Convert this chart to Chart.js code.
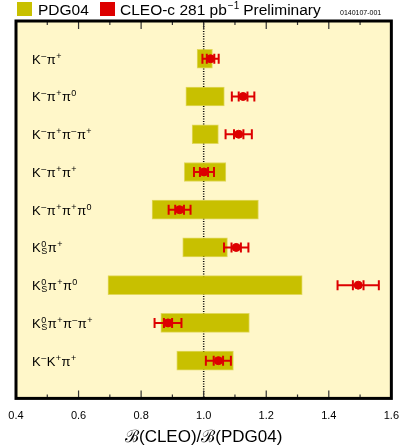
<!DOCTYPE html>
<html>
<head>
<meta charset="utf-8">
<script src="https://cdn.jsdelivr.net/npm/chart.js@4"></script>
<style>
  html, body { margin: 0; padding: 0; background: #ffffff; }
  #wrap { width: 402px; height: 448px; position: relative; }
</style>
</head>
<body>
<div id="wrap"><canvas id="chart" width="402" height="448"></canvas></div>
<script>
// decay modes, top to bottom (^ = superscript, _ = subscript)
var modes = ['K^-π^+', 'K^-π^+π^0', 'K^-π^+π^-π^+', 'K^-π^+π^+', 'K^-π^+π^+π^0',
             'K^0_Sπ^+', 'K^0_Sπ^+π^0', 'K^0_Sπ^+π^-π^+', 'K^-K^+π^+'];

// PDG04 band (low / high) relative to PDG04
var pdgLow  = [0.979, 0.943, 0.963, 0.938, 0.835, 0.933, 0.694, 0.863, 0.914];
var pdgHigh = [1.028, 1.066, 1.047, 1.071, 1.175, 1.076, 1.315, 1.146, 1.095];

// CLEO-c ratio with total and statistical errors
var cleoVal  = [1.022, 1.126, 1.112, 1.001, 0.923, 1.104, 1.494, 0.886, 1.047];
var cleoTot  = [0.026, 0.036, 0.042, 0.032, 0.035, 0.039, 0.066, 0.043, 0.040];
var cleoStat = [0.012, 0.014, 0.015, 0.013, 0.014, 0.015, 0.017, 0.013, 0.015];

var xTicks = [0.4, 0.6, 0.8, 1.0, 1.2, 1.4, 1.6];

var olive = '#c8c000';
var red = '#dd0000';
var paper = '#fff7c9';

// blank rows at both ends so the nine modes sit at 1..9
var rowLabels = [''].concat(modes).concat(['']);
var bandData = [null];
for (var i = 0; i < modes.length; i++) bandData.push([pdgLow[i], pdgHigh[i]]);
bandData.push(null);
var pointData = [];
for (var j = 0; j < modes.length; j++) pointData.push({ x: cleoVal[j], y: modes[j] });

// draw a label with sup/sub scripts
function drawMode(ctx, text, x, y) {
  var k = 0;
  while (k < text.length) {
    var c = text[k];
    if (c === '^' || c === '_') {
      var sup = null, sub = null;
      if (c === '^') { sup = text[k + 1]; k += 2; if (text[k] === '_') { sub = text[k + 1]; k += 2; } }
      else { sub = text[k + 1]; k += 2; }
      ctx.font = '9px "Liberation Sans", Arial, sans-serif';
      var w = 0;
      if (sup) {
        var s = sup === '-' ? '\u2013' : sup;
        ctx.fillText(s, x + 0.5, y - 5);
        w = Math.max(w, ctx.measureText(s).width);
      }
      if (sub) {
        ctx.fillText(sub, x + 0.5, y + 2);
        w = Math.max(w, ctx.measureText(sub).width);
      }
      x += w + 1;
    } else {
      ctx.font = '13px "Liberation Sans", Arial, sans-serif';
      ctx.fillText(c, x, y);
      x += ctx.measureText(c).width;
      k++;
    }
  }
}

var decorPlugin = {
  id: 'decor',
  beforeDatasetsDraw: function (chart) {
    var ctx = chart.ctx, a = chart.chartArea, xs = chart.scales.x;
    ctx.save();
    ctx.fillStyle = paper;
    ctx.fillRect(a.left, a.top, a.right - a.left, a.bottom - a.top);
    // dotted line at 1.0
    var x1 = xs.getPixelForValue(1.0);
    ctx.strokeStyle = '#000';
    ctx.lineWidth = 1.5;
    ctx.setLineDash([1, 1.5]);
    ctx.beginPath();
    ctx.moveTo(x1, a.top);
    ctx.lineTo(x1, a.bottom);
    ctx.stroke();
    ctx.restore();
  },
  afterDatasetsDraw: function (chart) {
    var ctx = chart.ctx, a = chart.chartArea, xs = chart.scales.x, ys = chart.scales.y;
    ctx.save();
    // error bars
    ctx.strokeStyle = red;
    ctx.lineWidth = 2;
    for (var i = 0; i < modes.length; i++) {
      var y = ys.getPixelForValue(i + 1);
      var lo = xs.getPixelForValue(cleoVal[i] - cleoTot[i]);
      var hi = xs.getPixelForValue(cleoVal[i] + cleoTot[i]);
      var slo = xs.getPixelForValue(cleoVal[i] - cleoStat[i]);
      var shi = xs.getPixelForValue(cleoVal[i] + cleoStat[i]);
      ctx.beginPath();
      ctx.moveTo(lo, y); ctx.lineTo(hi, y);
      [lo, hi, slo, shi].forEach(function (px) {
        ctx.moveTo(px, y - 5); ctx.lineTo(px, y + 5);
      });
      ctx.stroke();
    }
    // mode labels
    ctx.fillStyle = '#000';
    ctx.textBaseline = 'alphabetic';
    for (var m = 0; m < modes.length; m++) {
      drawMode(ctx, modes[m], a.left + 16, ys.getPixelForValue(m + 1) + 5);
    }
    // inside ticks, top and bottom
    ctx.strokeStyle = '#333';
    ctx.lineWidth = 1.2;
    for (var t = 4; t <= 16; t++) {
      var px = xs.getPixelForValue(t / 10);
      var len = (t % 2 === 0) ? 8 : 4;
      ctx.beginPath();
      ctx.moveTo(px, a.bottom); ctx.lineTo(px, a.bottom - len);
      ctx.moveTo(px, a.top); ctx.lineTo(px, a.top + len);
      ctx.stroke();
    }
    // frame
    ctx.strokeStyle = '#000';
    ctx.lineWidth = 3;
    ctx.strokeRect(a.left, a.top, a.right - a.left, a.bottom - a.top);
    ctx.restore();
  },
  afterDraw: function (chart) {
    var ctx = chart.ctx;
    ctx.save();
    ctx.fillStyle = olive;
    ctx.fillRect(17, 2, 15, 14);
    ctx.fillStyle = red;
    ctx.fillRect(100, 2, 15, 14);
    ctx.fillStyle = '#000';
    ctx.textBaseline = 'alphabetic';
    ctx.font = '15.5px "Liberation Sans", Arial, sans-serif';
    ctx.fillText('PDG04', 38, 15);
    var x = 120;
    ctx.fillText('CLEO-c 281 pb', x, 15);
    x += ctx.measureText('CLEO-c 281 pb').width;
    ctx.font = '10px "Liberation Sans", Arial, sans-serif';
    ctx.fillText('\u22121', x + 1, 9);
    x += ctx.measureText('\u22121').width + 5;
    ctx.font = '15.5px "Liberation Sans", Arial, sans-serif';
    ctx.fillText('Preliminary', x, 15);
    ctx.font = '7px "Liberation Sans", Arial, sans-serif';
    ctx.fillText('0140107-001', 340, 15);
    ctx.restore();
  }
};

new Chart(document.getElementById('chart'), {
  type: 'bar',
  data: {
    labels: rowLabels,
    datasets: [{
      label: 'PDG04',
      data: bandData,
      backgroundColor: olive,
      borderColor: 'rgba(200,192,0,0.55)',
      borderWidth: 1,
      borderSkipped: false,
      barThickness: 19,
      order: 2
    }, {
      type: 'line',
      label: 'CLEO-c 281 pb-1 Preliminary',
      data: pointData,
      showLine: false,
      pointRadius: 4,
      pointBackgroundColor: red,
      pointBorderColor: red,
      order: 1
    }]
  },
  options: {
    indexAxis: 'y',
    responsive: false,
    animation: false,
    layout: { padding: { left: 16, right: 10, top: 21, bottom: 0 } },
    plugins: { legend: { display: false }, tooltip: { enabled: false } },
    scales: {
      x: {
        type: 'linear',
        min: 0.4,
        max: 1.6,
        afterBuildTicks: function (axis) {
          axis.ticks = xTicks.map(function (v) { return { value: v }; });
        },
        grid: { display: false },
        border: { display: false },
        ticks: {
          color: '#000',
          padding: 3,
          maxRotation: 0,
          font: { family: '"Liberation Sans", Arial, sans-serif', size: 11 },
          callback: function (v) { return Number(v).toFixed(1); }
        },
        title: {
          display: true,
          text: '\u212C(CLEO)/\u212C(PDG04)',
          color: '#000',
          padding: { top: 2, bottom: 0 },
          font: { family: '"Liberation Sans", Arial, sans-serif', size: 17 }
        }
      },
      y: {
        type: 'category',
        offset: false,
        display: false,
        grid: { display: false }
      }
    }
  },
  plugins: [decorPlugin]
});
</script>
</body>
</html>
